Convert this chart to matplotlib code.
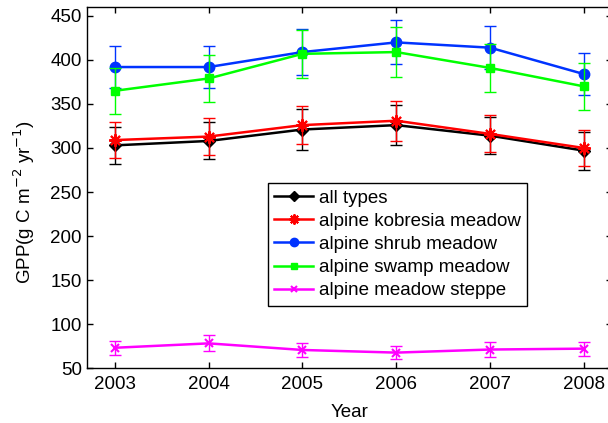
import matplotlib
matplotlib.use('Agg')
import matplotlib.pyplot as plt
import numpy as np

plt.rcParams['font.family'] = ['Liberation Sans', 'DejaVu Sans']

# GPP per grassland type, 2003-2008
years = [2003, 2004, 2005, 2006, 2007, 2008]

all_types = [303, 308, 321, 326, 314, 297]
all_types_err = [21, 21, 23, 22.5, 21, 21.5]

kobresia = [309, 313, 326, 331, 316, 300]
kobresia_err = [20, 21, 22, 22.5, 21, 21]

shrub = [392, 392, 409, 420, 414, 384]
shrub_err = [24, 24, 26.5, 25, 24.5, 24]

swamp = [365, 379, 407, 409, 391, 370]
swamp_err = [26, 27, 27.5, 28, 27, 27]

steppe = [73, 78, 70.5, 67.5, 71, 72]
steppe_err = [8, 9, 7.7, 7.7, 8, 8]

labels = ['all types', 'alpine kobresia meadow', 'alpine shrub meadow',
          'alpine swamp meadow', 'alpine meadow steppe']

fs = 13.5

fig = plt.figure(figsize=(6.08, 4.23), dpi=100)
ax = fig.add_axes([0.1426, 0.13, 0.864, 0.853])

series = [
    (all_types, all_types_err, 'black', 'D', 6, 1),
    (kobresia, kobresia_err, '#ff0000', (8, 2, 0), 9, 1.5),
    (shrub, shrub_err, '#0033ff', 'o', 7.5, 1),
    (swamp, swamp_err, '#00ff00', 's', 6, 1),
    (steppe, steppe_err, '#ff00ff', 'x', 6, 1.5),
]

handles = []
for (vals, err, col, mk, ms, mew), lab in zip(series, labels):
    ax.errorbar(years, vals, yerr=err, fmt='none', ecolor=col,
                elinewidth=1, capsize=4, capthick=1)
    h, = ax.plot(years, vals, color=col, marker=mk, markersize=ms,
                 markeredgewidth=mew, linewidth=1.8, label=lab)
    handles.append(h)

ax.set_xlim(2002.7, 2008.3)
ax.set_ylim(50, 460)
ax.set_xticks(years)
ax.set_yticks(np.arange(50, 451, 50))
ax.tick_params(direction='in', top=True, right=True, labelsize=fs,
               length=4, width=1)
ax.tick_params(axis='x', pad=6)
for sp in ax.spines.values():
    sp.set_linewidth(1)

ax.set_xlabel('Year', fontsize=fs, labelpad=8)
ax.set_ylabel('GPP(g C m$^{-2}$ yr$^{-1}$)', fontsize=fs)
ax.yaxis.set_label_coords(-0.095, 0.46)

leg = ax.legend(handles=handles, loc='upper left',
                bbox_to_anchor=(0.345, 0.5125), fontsize=fs,
                frameon=True, fancybox=False, edgecolor='black',
                framealpha=1, borderpad=0.35, labelspacing=0.32,
                handlelength=2.05, handletextpad=0.3, borderaxespad=0,
                markerscale=0.8)
leg.get_frame().set_linewidth(1)

fig.savefig('out.png', dpi=100)
